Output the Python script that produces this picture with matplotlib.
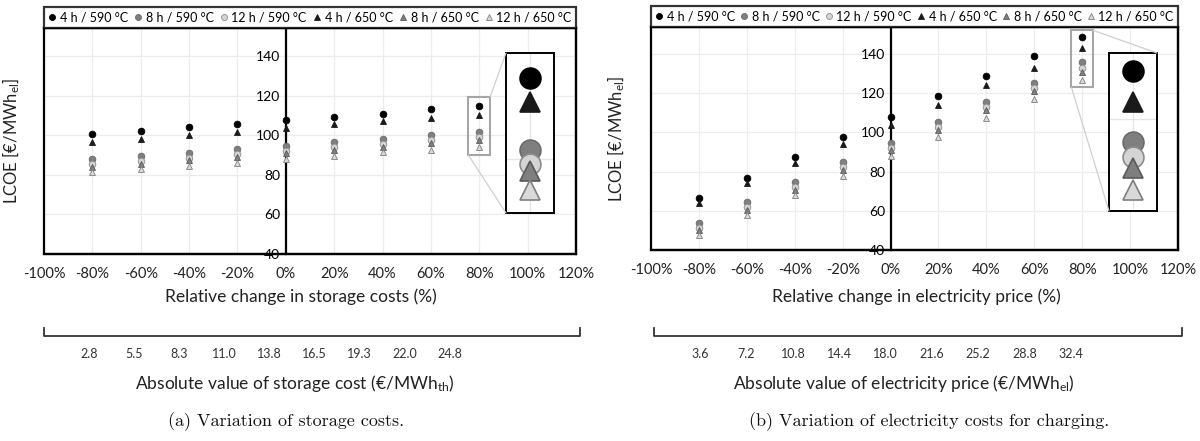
#! /usr/bin/env python3

import matplotlib
matplotlib.use("Agg")
import matplotlib.pyplot as plt
from matplotlib.patches import Rectangle, ConnectionPatch

plt.rcParams["font.family"] = ["Lato", "DejaVu Sans"]
plt.rcParams["mathtext.default"] = "regular"

# relative change (%) on the x axis
changes = [-80, -60, -40, -20, 0, 20, 40, 60, 80]

# (a) storage costs, LCOE in EUR/MWh_el
storage = {
    "4 h / 590 °C": [100.6, 102.2, 104.2, 105.9, 107.8, 109.5, 111.1, 113.2, 114.9],
    "8 h / 590 °C": [87.9, 89.6, 91.3, 92.9, 94.8, 96.5, 98.3, 100.1, 101.8],
    "12 h / 590 °C": [85.4, 87.0, 88.8, 90.4, 92.2, 94.0, 95.7, 97.5, 99.2],
    "4 h / 650 °C": [96.8, 98.4, 100.1, 101.8, 103.8, 105.6, 107.1, 108.8, 110.5],
    "8 h / 650 °C": [84.1, 85.8, 87.4, 89.1, 91.0, 92.7, 94.4, 96.2, 97.9],
    "12 h / 650 °C": [81.6, 83.0, 84.5, 86.0, 87.9, 89.8, 91.5, 92.8, 94.4],
}

# (b) electricity price
electricity = {
    "4 h / 590 °C": [66.4, 76.9, 87.3, 97.7, 107.8, 118.4, 128.9, 138.8, 148.8],
    "8 h / 590 °C": [53.8, 64.3, 74.5, 84.7, 94.8, 105.3, 115.5, 125.4, 135.7],
    "12 h / 590 °C": [51.4, 61.8, 72.0, 82.2, 92.2, 102.6, 112.8, 122.8, 133.0],
    "4 h / 650 °C": [63.8, 74.0, 84.2, 94.0, 103.6, 113.8, 124.0, 133.0, 143.0],
    "8 h / 650 °C": [50.2, 60.5, 70.6, 80.8, 91.0, 101.2, 111.3, 121.0, 131.0],
    "12 h / 650 °C": [47.9, 57.9, 68.0, 78.0, 87.9, 97.7, 107.5, 117.0, 126.8],
}

storage_abs = ["2.8", "5.5", "8.3", "11.0", "13.8", "16.5", "19.3", "22.0", "24.8"]
electricity_abs = ["3.6", "7.2", "10.8", "14.4", "18.0", "21.6", "25.2", "28.8", "32.4"]

xticks = [-100, -80, -60, -40, -20, 0, 20, 40, 60, 80, 100, 120]
yticks = [40, 60, 80, 100, 120, 140]

styles = {
    "4 h / 590 °C": dict(marker="o", mfc="black", mec="black"),
    "8 h / 590 °C": dict(marker="o", mfc="#7f7f7f", mec="#6a6a6a"),
    "12 h / 590 °C": dict(marker="o", mfc="#d4d4d4", mec="#8c8c8c"),
    "4 h / 650 °C": dict(marker="^", mfc="#1a1a1a", mec="#1a1a1a"),
    "8 h / 650 °C": dict(marker="^", mfc="#7f7f7f", mec="#5a5a5a"),
    "12 h / 650 °C": dict(marker="^", mfc="#d9d9d9", mec="#7f7f7f"),
}
legend_order = ["4 h / 590 °C", "8 h / 590 °C", "12 h / 590 °C",
                "4 h / 650 °C", "8 h / 650 °C", "12 h / 650 °C"]
draw_order = ["8 h / 590 °C", "12 h / 590 °C", "8 h / 650 °C", "12 h / 650 °C",
              "4 h / 590 °C", "4 h / 650 °C"]

W, H = 1200, 441

def fx(px):
    return px / W

def fy(py):
    return 1 - py / H


def draw_panel(fig, data, box, ytop, zoom, inset_box, links, xlabel, abs_labels,
               abs_label, caption, lower, ylab_x):
    left, right, top, bottom = box
    ax = fig.add_axes([fx(left), fy(bottom), fx(right - left), (bottom - top) / H])
    ax.set_xlim(-100, 120)
    ax.set_ylim(40, ytop)
    ax.set_xticks(xticks)
    ax.set_xticklabels([f"{v}%" for v in xticks], fontsize=10.5, color="#222222")
    ax.set_yticks(yticks)
    ax.set_yticklabels([str(v) for v in yticks], fontsize=11, color="#222222")
    ax.tick_params(length=0)
    ax.tick_params(axis="x", pad=9)
    ax.tick_params(axis="y", pad=4)
    ax.grid(True, color="#ececec", lw=0.9)
    ax.set_axisbelow(True)
    for s in ax.spines.values():
        s.set_linewidth(1.6)
    ax.spines["left"].set_position(("data", 0))
    ax.add_patch(Rectangle((0, 0), 1, 1, transform=ax.transAxes, fill=False,
                           lw=1.6, ec="black", clip_on=False, zorder=5))

    handles = {}
    for name in draw_order:
        st = styles[name]
        ms = 4.8 if st["marker"] == "o" else 5.0
        h, = ax.plot(changes, data[name], ls="none", ms=ms, mew=0.6, zorder=4, **st)
        handles[name] = h

    leg = ax.legend([handles[n] for n in legend_order], legend_order,
                    loc="lower left", bbox_to_anchor=(0, 1, 1, 21 / (bottom - top)),
                    mode="expand", ncol=6, borderaxespad=0, fancybox=False,
                    fontsize=9, handlelength=0.6, handletextpad=0.3,
                    columnspacing=0.8, borderpad=0.35, markerscale=0.9)
    leg.get_frame().set_edgecolor("black")
    leg.get_frame().set_linewidth(1.6)

    # y label sits at the outer left, away from the y axis drawn at 0 %
    ax.yaxis.set_label_coords((ylab_x - left) / (right - left), 0.5)
    ax.set_ylabel("LCOE [€/MWh$_{el}$]", fontsize=12, color="#222222")

    # small box around the 80 % cluster and the enlarged view
    zx0, zx1, zy0, zy1 = zoom
    ax.add_patch(Rectangle((zx0, zy0), zx1 - zx0, zy1 - zy0, fill=False,
                           ec="#a6a6a6", lw=1.5, zorder=6))
    il, ir, it, ib = inset_box
    ins = fig.add_axes([fx(il), fy(ib), fx(ir - il), (ib - it) / H])
    ins.set_xlim(zx0, zx1)
    ins.set_ylim(zy0, zy1)
    ins.set_xticks([80])
    ins.set_yticks([v for v in range(40, 161, 20) if zy0 < v < zy1])
    ins.tick_params(length=0, labelbottom=False, labelleft=False)
    ins.grid(True, color="#e4e4e4", lw=0.9)
    ins.set_axisbelow(True)
    for s in ins.spines.values():
        s.set_linewidth(1.4)
    i = changes.index(80)
    for name in draw_order:
        st = styles[name]
        ins.plot([80], [data[name][i]], ls="none", ms=15, mew=1.2, zorder=4, **st)

    for (px, py), (qx, qy) in links:
        fig.add_artist(ConnectionPatch((px, py), (qx, qy), coordsA=ax.transData,
                                       coordsB=ins.transAxes, color="#cfcfcf", lw=0.9))

    cx, lab_x, abs_x, cap_x = lower
    fig.text(fx(lab_x), fy(297), xlabel, ha="center", va="center", fontsize=12.5,
             color="#222222")

    # bracket with the absolute values underneath
    bl, br, step = cx
    bx = fig.add_axes([fx(bl), fy(343), fx(br - bl), 15 / H])
    span = (br - bl) / step
    bx.set_xlim(0, span)
    bx.set_ylim(0, 1)
    bx.axis("off")
    bx.plot([0, 0, span, span], [1, 0.45, 0.45, 1], color="#333333", lw=1.3,
            clip_on=False)
    for k, lab in enumerate(abs_labels):
        bx.text(k + 1, -0.75, lab, ha="center", va="center", fontsize=9,
                color="#333333")

    fig.text(fx(abs_x), fy(383), abs_label, ha="center", va="center", fontsize=12.5,
             color="#222222")
    fig.text(fx(cap_x), fy(422), caption, ha="center", va="center", fontsize=13,
             family="cmr10", color="#111111")
    return ax


def main():
    fig = plt.figure(figsize=(12, 4.41), dpi=100)

    draw_panel(fig, storage, (44, 576, 28, 254), 154.4,
               (75.5, 84.5, 90.1, 119.6), (506, 554, 53, 213),
               [((84.5, 119.6), (0, 1)), ((75.5, 90.1), (0, 0))],
               "Relative change in storage costs (%)", storage_abs,
               "Absolute value of storage cost (€/MWh$_{th}$)",
               "(a) Variation of storage costs.",
               ((44, 580, 45.1), 301, 295, 286), 22)

    draw_panel(fig, electricity, (651, 1178, 27, 250), 153.8,
               (75.5, 84.5, 123.0, 152.1), (1109, 1157, 53, 211),
               [((84.5, 152.1), (1, 1)), ((75.5, 123.0), (0, 0))],
               "Relative change in electricity price (%)", electricity_abs,
               "Absolute value of electricity price (€/MWh$_{el}$)",
               "(b) Variation of electricity costs for charging.",
               ((654, 1182, 46.3), 916, 904, 929), 627)

    fig.savefig("out.png", dpi=100, facecolor="white")
    plt.close(fig)


if __name__ == "__main__":
    main()
